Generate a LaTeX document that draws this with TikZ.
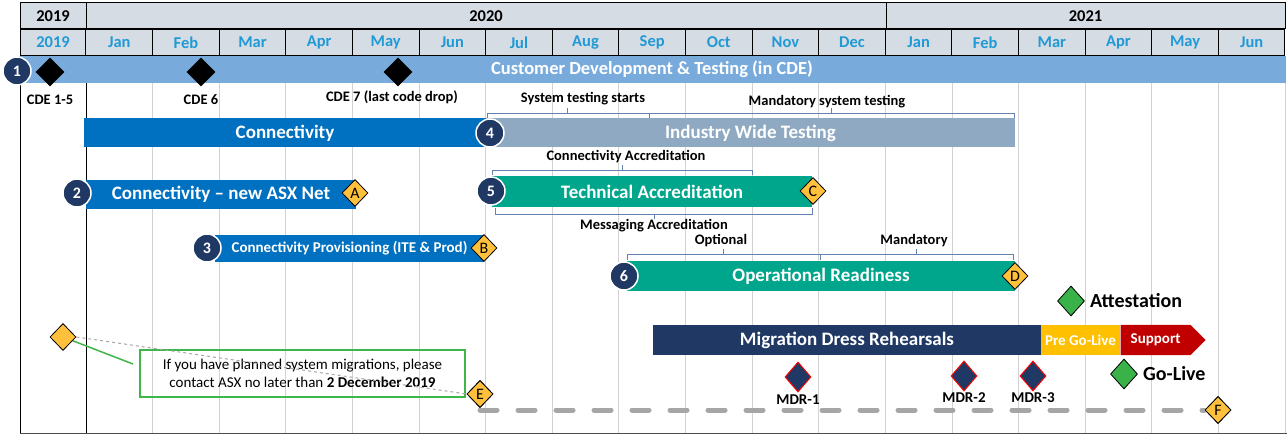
\documentclass[tikz,border=0pt]{standalone}
\usepackage{fontspec}
\setmainfont{Carlito}
\usetikzlibrary{positioning,shapes.geometric,shapes.symbols}

\definecolor{hdrfill}{RGB}{214,220,228}
\definecolor{monthblue}{RGB}{32,154,214}
\definecolor{bandblue}{RGB}{120,171,219}
\definecolor{navy}{RGB}{31,56,100}
\definecolor{connblue}{RGB}{0,112,192}
\definecolor{iwtgrey}{RGB}{142,169,193}
\definecolor{teal}{RGB}{0,166,140}
\definecolor{gold}{RGB}{255,193,60}
\definecolor{preyellow}{RGB}{255,192,0}
\definecolor{supred}{RGB}{192,0,0}
\definecolor{golive}{RGB}{57,178,74}
\definecolor{notegreen}{RGB}{64,181,74}
\definecolor{brkblue}{RGB}{100,130,175}
\definecolor{gridgrey}{RGB}{210,210,210}
\definecolor{dashgrey}{RGB}{166,166,166}

\begin{document}
\begin{tikzpicture}[x=1pt,y=-1pt,font=\bfseries,semithick]
		\tikzstyle{yearcell}=[draw=black,fill=hdrfill,line width=1pt,minimum height=26pt,inner sep=0pt,font=\bfseries\fontsize{16.5}{16.5}\selectfont]
		\tikzstyle{monthcell}=[yearcell,minimum width=66.61pt,text=monthblue]
		\tikzstyle{bar}=[rectangle,minimum height=29pt,inner sep=0pt,text=white,font=\bfseries\fontsize{19}{19}\selectfont]
		\tikzstyle{num}=[circle,fill=navy,draw=white,line width=1.5pt,minimum size=28pt,inner sep=0pt,text=white,font=\bfseries\fontsize{16}{16}\selectfont]
		\tikzstyle{cde}=[diamond,fill=black,minimum width=29pt,minimum height=29pt,inner sep=0pt]
		\tikzstyle{gate}=[diamond,draw=black,fill=gold,line width=0.8pt,minimum width=26pt,minimum height=27pt,inner sep=0pt,font=\fontsize{16}{16}\selectfont]
		\tikzstyle{mdr}=[diamond,draw=red,fill=navy,line width=1pt,minimum width=26pt,minimum height=30pt,inner sep=0pt]
		\tikzstyle{go}=[diamond,draw=black,fill=golive,line width=0.8pt,minimum width=27pt,minimum height=30pt,inner sep=0pt]
		\tikzstyle{lbl}=[inner sep=1pt,font=\bfseries\fontsize{14.5}{14.5}\selectfont]
		\tikzstyle{brk}=[draw=brkblue,line width=0.8pt]

		\useasboundingbox (0,0) rectangle (1287,435);

		% grid
		\foreach \i in {1,...,18}
			\draw[gridgrey,line width=0.8pt] ({86+\i*66.61},83) -- ({86+\i*66.61},433);
		\draw[black,line width=1pt] (20,3) -- (20,433);
		\draw[black,line width=1pt] (86,3) -- (86,433);
		\draw[black!70,line width=1pt] (20,433) -- (1287,433);

		% header
		\node[yearcell,minimum width=66pt] (y2019) at (53,16) {2019};
		\node[yearcell,minimum width=800pt] (y2020) at (486,16) {2020};
		\node[yearcell,minimum width=399pt] (y2021) at (1085.5,16) {2021};
		\node[yearcell,minimum width=66pt,text=monthblue] (m2019) at (53,42.5) {2019};
		\foreach \m [count=\i from 0] in {Jan,Feb,Mar,Apr,May,Jun,Jul,Aug,Sep,Oct,Nov,Dec,Jan,Feb,Mar,Apr,May,Jun}
			\node[monthcell] (m\i) at ({86+\i*66.61+33.3},42.5) {\m};

		% customer development band
		\node[bar,fill=bandblue,minimum width=1267pt,minimum height=27pt,font=\bfseries\fontsize{18.5}{18.5}\selectfont] (cdt) at (652,69.5) {Customer Development \& Testing (in CDE)};
		\node[num] (n1) at (17,71) {1};
		\node[cde] (cde1) at (50,72) {};
		\node[cde] (cde6) at (201,72) {};
		\node[cde] (cde7) at (398,72) {};
		\node[lbl] (cde1l) at (50,100) {CDE 1-5};
		\node[lbl] (cde6l) at (201,100) {CDE 6};
		\node[lbl] (cde7l) at (392,97) {CDE 7 (last code drop)};

		% bars
		\node[bar,fill=connblue,minimum width=402pt] (conn) at (285,133) {Connectivity};
		\node[bar,fill=iwtgrey,minimum width=529pt] (iwt) at (750.5,133) {Industry Wide Testing};
		\node[bar,fill=connblue,minimum width=270pt] (asx) at (221,194.5) {Connectivity -- new ASX Net};
		\node[bar,fill=connblue,minimum width=269pt,minimum height=27pt,font=\bfseries\fontsize{15}{15}\selectfont] (prov) at (349.5,248.5) {Connectivity Provisioning (ITE \& Prod)};
		\node[bar,fill=teal,minimum width=320pt,minimum height=31pt] (tech) at (652,191.5) {Technical Accreditation};
		\node[bar,fill=teal,minimum width=388pt,minimum height=30pt] (opr) at (821,276) {Operational Readiness};
		\node[bar,fill=navy,minimum width=388pt,minimum height=30pt] (mdr) at (847,340) {Migration Dress Rehearsals};
		\node[bar,fill=preyellow,minimum width=79pt,minimum height=30pt,font=\bfseries\fontsize{15}{15}\selectfont] (pre) at (1080.5,340) {Pre Go-Live};
		\node[bar,signal,signal to=east,signal from=nowhere,fill=supred,minimum width=85pt,minimum height=30pt,anchor=west,font=\bfseries\fontsize{15}{15}\selectfont] (sup) [right=0pt of pre] {Support};

		% brackets
		\draw[brk] (487,118) -- (487,113) -- (649,113) -- (649,118);
		\draw[brk] (567,113) -- (567,108);
		\draw[brk] (649,113) -- (1014,113) -- (1014,118);
		\draw[brk] (831,113) -- (831,108);
		\draw[brk] (492,175) -- (492,170) -- (752,170) -- (752,175);
		\draw[brk] (622,170) -- (622,165);
		\draw[brk] (495,208) -- (495,214) -- (812,214) -- (812,208);
		\draw[brk] (654,214) -- (654,219);
		\draw[brk] (627,260) -- (627,254) -- (1013,254) -- (1013,260);
		\draw[brk] (820,254) -- (820,260);
		\draw[brk] (723,254) -- (723,249);
		\draw[brk] (916,254) -- (916,249);
		\node[lbl] (stsl) at (583,99) {System testing starts};
		\node[lbl] (mstl) at (827,102) {Mandatory system testing};
		\node[lbl] (cacl) at (626,157) {Connectivity Accreditation};
		\node[lbl] (macl) at (654,226) {Messaging Accreditation};
		\node[lbl] (optl) at (721,241) {Optional};
		\node[lbl] (manl) at (914,241) {Mandatory};

		% numbers
		\node[num] (n2) at (77,193) {2};
		\node[num] (n3) at (207,248) {3};
		\node[num] (n4) at (490,133) {4};
		\node[num] (n5) at (491,191) {5};
		\node[num] (n6) at (624,276) {6};

		% gates
		\node[gate] (gA) at (355,193) {A};
		\node[gate] (gB) at (484,248) {B};
		\node[gate] (gC) at (813,191) {C};
		\node[gate] (gD) at (1015,276) {D};
		\node[gate] (gE) at (480,394) {E};
		\node[gate] (gF) at (1218,410) {F};
		\node[gate] (warn) at (63,337) {};

		% go-live milestones
		\node[go] (att) at (1071,301) {};
		\node[lbl,font=\bfseries\fontsize{20}{20}\selectfont] (attl) [right=4pt of att] {Attestation};
		\node[go] (golv) at (1124,374) {};
		\node[lbl,font=\bfseries\fontsize{20}{20}\selectfont] (golvl) [right=4pt of golv] {Go-Live};

		% dress rehearsals
		\node[mdr] (mdr1) at (798,377) {};
		\node[mdr] (mdr2) at (964,376) {};
		\node[mdr] (mdr3) at (1033,376) {};
		\node[lbl,font=\bfseries\fontsize{15}{15}\selectfont] (mdr1l) [below=1pt of mdr1] {MDR-1};
		\node[lbl,font=\bfseries\fontsize{15}{15}\selectfont] (mdr2l) [below=0pt of mdr2] {MDR-2};
		\node[lbl,font=\bfseries\fontsize{15}{15}\selectfont] (mdr3l) [below=0pt of mdr3] {MDR-3};

		% note
		\node[draw=notegreen,line width=1.5pt,minimum width=325pt,minimum height=47pt,align=center,font=\mdseries\fontsize{15}{18}\selectfont] (note) at (302.5,373.5) {If you have planned system migrations, please\\contact ASX no later than \textbf{2 December 2019}};
		\coordinate (callout) at (133,364);
		\draw[notegreen,line width=1.5pt] (warn) -- (callout);
		\draw[dashgrey,dashed,line width=1pt] (warn.east) -- (gE.west);
		\draw[dashgrey,line width=5pt,line cap=round,dash pattern=on 17pt off 21pt] (gE.center |- gF.center) -- (gF.west);
		\node[gate] at (gE) {E};
		\node[gate] at (gF) {F};
	\end{tikzpicture}
\end{document}
